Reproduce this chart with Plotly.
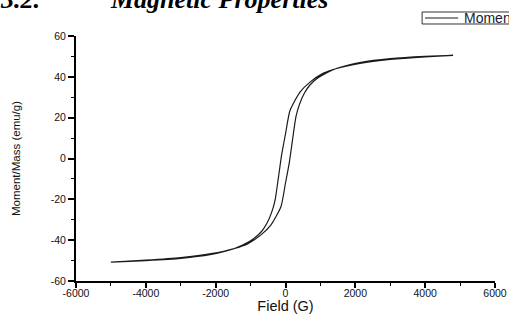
import plotly.graph_objects as go

# Descending branch (field decreasing from +4800 to -5000)
field_down = [4800, 4000, 3000, 2135, 1467, 1074, 702, 415, 129, 0, -109, -200,
              -301, -400, -539, -700, -923, -1200, -1496, -2163, -3000, -4000, -5000]
moment_down = [50.5, 49.8, 48.5, 46.6, 44.1, 41.7, 37.4, 32.5, 23.5, 12.0, 2.0, -9.0,
               -20.6, -26.5, -32.0, -36.0, -39.4, -42.2, -44.3, -47.1, -48.9, -50.0, -50.8]
# Ascending branch (field increasing from -5000 to +4800)
field_up = [-5000, -4000, -3000, -2135, -1467, -1074, -702, -415, -129, 0, 109, 200,
            301, 400, 539, 700, 923, 1200, 1496, 2163, 3000, 4000, 4800]
moment_up = [-50.8, -49.8, -48.5, -46.6, -44.1, -41.7, -37.4, -32.5, -23.5, -12.0, -2.0, 9.0,
             20.6, 26.5, 32.0, 36.0, 39.4, 42.2, 44.3, 47.1, 48.9, 50.0, 50.5]

x_ticks = [-6000, -4000, -2000, 0, 2000, 4000, 6000]
y_ticks = [-60, -40, -20, 0, 20, 40, 60]
series_name = "Moment"

SANS = "Liberation Sans, Arial, sans-serif"

fig = go.Figure()
fig.add_trace(go.Scatter(
    x=field_down + field_up, y=moment_down + moment_up,
    mode="lines", name=series_name, showlegend=False,
    line=dict(color="#1a1a1a", width=1.2, shape="spline", smoothing=0.6),
))

tickfont = dict(family=SANS, size=10.5, color="#111")
fig.update_layout(
    width=509, height=314,
    margin=dict(l=76, r=14, t=36, b=33, autoexpand=False),
    paper_bgcolor="white", plot_bgcolor="white",
    xaxis=dict(range=[-6000, 6000], tickvals=x_ticks, ticktext=[str(v) for v in x_ticks],
               showgrid=False, zeroline=False, showline=True, linecolor="black", linewidth=2,
               ticks="outside", ticklen=5, tickwidth=1.5, tickcolor="black",
               minor=dict(dtick=1000, ticks="outside", ticklen=3, tickcolor="black", tickwidth=1.2),
               tickfont=tickfont, automargin=False, ticklabelstandoff=-4,
               title=dict(text="Field (G)", font=dict(family=SANS, size=14.5, color="#111"),
                          standoff=14)),
    yaxis=dict(range=[-60, 60], tickvals=y_ticks, ticktext=[str(v) for v in y_ticks],
               showgrid=False, zeroline=False, showline=True, linecolor="black", linewidth=2,
               ticks="outside", ticklen=6, tickwidth=1.5, tickcolor="black",
               minor=dict(dtick=10, ticks="outside", ticklen=3, tickcolor="black", tickwidth=1.2),
               tickfont=tickfont, automargin=False,
               title=dict(text="Moment/Mass (emu/g)", font=dict(family=SANS, size=11.5, color="#111"),
                          standoff=28)),
    shapes=[
        dict(type="rect", xref="paper", yref="paper", x0=0.826, x1=1.08, y0=1.049, y1=1.098,
             line=dict(color="#333", width=1), fillcolor="white"),
        dict(type="line", xref="paper", yref="paper", x0=0.833, x1=0.912, y0=1.0735, y1=1.0735,
             line=dict(color="#1a1a1a", width=1.2)),
    ],
    annotations=[
        dict(text=series_name, x=0.921, y=1.0735, xref="paper", yref="paper",
             xanchor="left", yanchor="middle", showarrow=False,
             font=dict(family=SANS, size=14, color="#1a1a3a")),
        dict(text="<b><i>3.2.</i></b>", x=-0.186, y=1.15, xref="paper", yref="paper",
             xanchor="left", yanchor="middle", showarrow=False,
             font=dict(family="Liberation Serif, serif", size=26, color="black")),
        dict(text="<b><i>Magnetic Properties</i></b>", x=0.0764, y=1.15, xref="paper", yref="paper",
             xanchor="left", yanchor="middle", showarrow=False,
             font=dict(family="Liberation Serif, serif", size=26, color="black")),
    ],
)

fig.write_html("out.html", config={"displayModeBar": False},
               post_script="document.body.style.margin='0';document.body.style.overflow='hidden';")
